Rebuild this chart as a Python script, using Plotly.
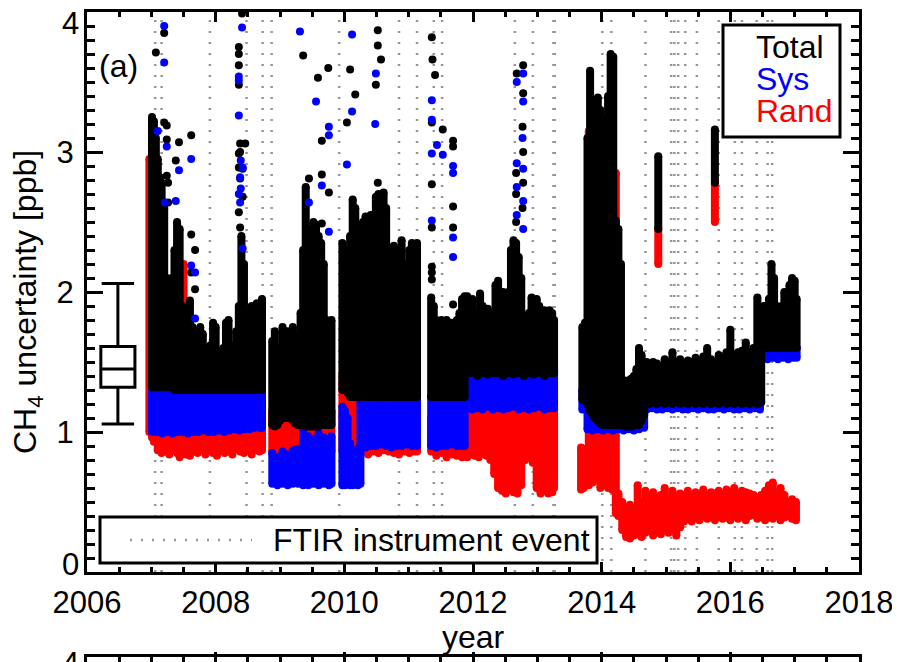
import plotly.graph_objects as go

# ---------------- data ----------------
event_years = [2007.06, 2007.16, 2007.91, 2008.48, 2008.73, 2008.87, 2009.92, 2010.85,
               2011.13, 2011.39, 2011.52, 2012.65, 2012.93, 2013.25, 2013.27, 2014.01,
               2014.15, 2014.68, 2015.08, 2015.13, 2015.19, 2015.30, 2015.48, 2015.82,
               2016.07, 2016.18, 2016.41, 2016.58, 2016.65]

# Total uncertainty: time, lower and upper envelope of the dense point cloud
total_time = [
    2007.01, 2007.04, 2007.07, 2007.10, 2007.13, 2007.16, 2007.20, 2007.24, 2007.28, 2007.32,
    2007.36, 2007.40, 2007.44, 2007.48, 2007.52, 2007.56, 2007.60, 2007.64, 2007.68, 2007.72,
    2007.76, 2007.80, 2007.84, 2007.88, 2007.92, 2007.96, 2008.00, 2008.04, 2008.08, 2008.12,
    2008.16, 2008.20, 2008.24, 2008.28, 2008.32, 2008.36, 2008.40, 2008.44, 2008.48, 2008.52,
    2008.56, 2008.60, 2008.64, 2008.68, 2008.72,
    2008.88, 2008.92, 2008.96, 2009.00, 2009.04, 2009.08, 2009.12, 2009.16, 2009.20, 2009.24,
    2009.28, 2009.32, 2009.36, 2009.40, 2009.44, 2009.48, 2009.52, 2009.56, 2009.60, 2009.64,
    2009.68, 2009.72, 2009.76, 2009.80,
    2009.97, 2010.01, 2010.05, 2010.09, 2010.13, 2010.17, 2010.21, 2010.25, 2010.29, 2010.33,
    2010.37, 2010.41, 2010.45, 2010.49, 2010.53, 2010.57, 2010.61, 2010.65, 2010.69, 2010.73,
    2010.77, 2010.81, 2010.85, 2010.89, 2010.93, 2010.97, 2011.01, 2011.05, 2011.09, 2011.13,
    2011.35, 2011.39, 2011.43, 2011.47, 2011.51, 2011.55, 2011.59, 2011.63, 2011.67, 2011.71,
    2011.75, 2011.79, 2011.83, 2011.87,
    2011.91, 2011.95, 2011.99, 2012.03, 2012.07, 2012.11, 2012.15, 2012.19, 2012.23, 2012.27,
    2012.31, 2012.35, 2012.39, 2012.43, 2012.47, 2012.51, 2012.55, 2012.59, 2012.63, 2012.67,
    2012.71, 2012.75, 2012.79, 2012.83, 2012.87, 2012.91, 2012.95, 2012.99, 2013.03, 2013.07,
    2013.11, 2013.15, 2013.19, 2013.23, 2013.26,
    2013.70, 2013.74, 2013.78, 2013.82, 2013.86, 2013.90, 2013.94, 2013.98, 2014.02, 2014.06,
    2014.10, 2014.14, 2014.18, 2014.22, 2014.26, 2014.30,
    2014.34, 2014.38, 2014.42, 2014.46, 2014.50, 2014.54, 2014.58, 2014.62, 2014.66, 2014.70,
    2014.74, 2014.80, 2014.86, 2014.92, 2014.98, 2015.04, 2015.10, 2015.16, 2015.22, 2015.28,
    2015.34, 2015.40, 2015.46, 2015.52, 2015.58, 2015.64, 2015.70, 2015.76, 2015.82, 2015.88,
    2015.94, 2016.00, 2016.06, 2016.12, 2016.18, 2016.24, 2016.30, 2016.36, 2016.42, 2016.48,
    2016.52, 2016.56, 2016.60, 2016.64, 2016.68, 2016.72, 2016.76, 2016.80, 2016.84, 2016.88,
    2016.92, 2016.96, 2017.00, 2017.03,
    2014.88, 2015.76]
total_low = [
    1.32, 1.32, 1.32, 1.32, 1.32, 1.32, 1.32, 1.32, 1.32, 1.32,
    1.30, 1.30, 1.30, 1.30, 1.30, 1.30, 1.30, 1.30, 1.30, 1.30,
    1.30, 1.30, 1.30, 1.30, 1.30, 1.30, 1.30, 1.30, 1.30, 1.30,
    1.30, 1.30, 1.30, 1.30, 1.30, 1.30, 1.30, 1.30, 1.30, 1.30,
    1.30, 1.30, 1.30, 1.30, 1.30,
    1.05, 1.04, 1.05, 1.08, 1.10, 1.10, 1.10, 1.10, 1.08, 1.06,
    1.05, 1.05, 1.05, 1.04, 1.04, 1.04, 1.04, 1.04, 1.04, 1.05,
    1.05, 1.05, 1.05, 1.05,
    1.30, 1.30, 1.28, 1.25, 1.25, 1.25, 1.25, 1.25, 1.25, 1.25,
    1.25, 1.25, 1.25, 1.25, 1.25, 1.25, 1.25, 1.25, 1.25, 1.25,
    1.25, 1.25, 1.25, 1.25, 1.25, 1.25, 1.25, 1.25, 1.25, 1.25,
    1.25, 1.25, 1.25, 1.25, 1.25, 1.25, 1.25, 1.25, 1.25, 1.25,
    1.25, 1.25, 1.25, 1.25,
    1.44, 1.42, 1.43, 1.42, 1.40, 1.42, 1.43, 1.42, 1.41, 1.42,
    1.44, 1.42, 1.43, 1.42, 1.40, 1.42, 1.43, 1.42, 1.41, 1.42,
    1.43, 1.42, 1.40, 1.42, 1.43, 1.42, 1.41, 1.42, 1.43, 1.42,
    1.40, 1.42, 1.43, 1.42, 1.42,
    1.23, 1.23, 1.20, 1.15, 1.12, 1.10, 1.08, 1.06, 1.05, 1.05,
    1.05, 1.05, 1.05, 1.05, 1.05, 1.05,
    1.05, 1.04, 1.04, 1.04, 1.05, 1.05, 1.05, 1.08, 1.12, 1.20,
    1.20, 1.21, 1.20, 1.22, 1.20, 1.21, 1.20, 1.22, 1.20, 1.21,
    1.20, 1.22, 1.20, 1.21, 1.20, 1.22, 1.20, 1.21, 1.20, 1.22,
    1.20, 1.21, 1.20, 1.22, 1.20, 1.21, 1.20, 1.22, 1.20, 1.21,
    1.60, 1.60, 1.60, 1.60, 1.60, 1.60, 1.60, 1.60, 1.60, 1.60,
    1.60, 1.60, 1.60, 1.60,
    2.45, 2.78]
total_high = [
    3.25, 3.22, 3.10, 2.95, 2.82, 2.78, 2.60, 2.10, 2.05, 2.10,
    2.30, 2.50, 2.45, 1.90, 1.80, 1.85, 1.94, 1.75, 1.70, 1.60,
    1.75, 1.70, 1.60, 1.55, 1.62, 1.78, 1.75, 1.58, 1.55, 1.60,
    1.78, 1.80, 1.60, 1.62, 1.72, 1.90, 2.40, 2.20, 1.85, 1.75,
    1.90, 1.80, 1.92, 1.85, 1.95,
    1.65, 1.72, 1.60, 1.50, 1.75, 1.60, 1.72, 1.62, 1.75, 1.60,
    1.70, 1.85, 2.30, 2.75, 2.00, 2.45, 2.50, 2.48, 2.40, 2.35,
    2.20, 1.80, 1.75, 1.80,
    2.35, 2.30, 1.90, 2.40, 2.66, 2.60, 2.20, 2.00, 2.50, 2.54,
    2.30, 2.55, 2.40, 2.68, 2.70, 2.50, 2.71, 2.60, 2.10, 2.00,
    2.33, 1.95, 2.30, 2.37, 2.20, 2.10, 2.30, 2.35, 2.10, 2.35,
    1.96, 1.90, 1.80, 1.75, 1.80, 1.72, 1.80, 1.75, 1.78, 1.70,
    1.80, 1.85, 1.95, 1.97,
    1.97, 1.90, 1.95, 1.85, 1.80, 1.99, 1.90, 1.85, 1.88, 1.85,
    1.80, 2.05, 2.08, 1.95, 2.00, 1.90, 2.00, 2.30, 2.37, 2.35,
    2.25, 2.10, 1.80, 1.75, 1.85, 1.96, 1.90, 1.95, 1.90, 1.85,
    1.87, 1.80, 1.87, 1.85, 1.80,
    1.75, 1.78, 3.10, 3.58, 3.30, 2.90, 3.39, 3.30, 3.24, 3.00,
    3.40, 3.70, 3.68, 2.51, 2.45, 2.20,
    1.37, 1.35, 1.37, 1.38, 1.40, 1.45, 1.60, 1.55, 1.45, 1.50,
    1.48, 1.50, 1.49, 1.47, 1.52, 1.50, 1.57, 1.50, 1.52, 1.48,
    1.51, 1.50, 1.53, 1.50, 1.54, 1.60, 1.52, 1.50, 1.55, 1.53,
    1.57, 1.73, 1.55, 1.57, 1.58, 1.64, 1.56, 1.60, 1.96, 1.62,
    1.90, 1.85, 1.95, 2.20, 2.10, 1.90, 1.85, 1.90, 2.00, 1.95,
    2.05, 2.10, 2.08, 1.95,
    2.97, 3.16]

# Systematic uncertainty envelope
sys_time = [
    2007.01, 2007.09, 2007.17, 2007.25, 2007.33, 2007.41, 2007.49, 2007.57, 2007.65, 2007.73,
    2007.81, 2007.89, 2007.97, 2008.05, 2008.13, 2008.21, 2008.29, 2008.37, 2008.45, 2008.53,
    2008.61, 2008.69, 2008.72,
    2008.88, 2008.96, 2009.04, 2009.12, 2009.20, 2009.28, 2009.36, 2009.44, 2009.52, 2009.60,
    2009.68, 2009.76, 2009.80,
    2009.97, 2010.01, 2010.05, 2010.09, 2010.13, 2010.17, 2010.21, 2010.25,
    2010.25, 2010.33, 2010.41, 2010.49, 2010.57, 2010.65, 2010.73, 2010.81, 2010.89, 2010.97,
    2011.05, 2011.13,
    2011.35, 2011.43, 2011.51, 2011.59, 2011.67, 2011.75, 2011.83, 2011.87,
    2011.91, 2011.99, 2012.07, 2012.15, 2012.23, 2012.31, 2012.39, 2012.47, 2012.55, 2012.63,
    2012.71, 2012.79, 2012.87, 2012.95, 2013.03, 2013.11, 2013.19, 2013.26,
    2013.70, 2013.74, 2013.78, 2013.86, 2013.94, 2014.02, 2014.10, 2014.18, 2014.26, 2014.34,
    2014.42, 2014.50, 2014.58, 2014.66,
    2014.70, 2014.78, 2014.86, 2014.94, 2015.02, 2015.10, 2015.18, 2015.26, 2015.34, 2015.42,
    2015.50, 2015.58, 2015.66, 2015.74, 2015.82, 2015.90, 2015.98, 2016.06, 2016.14, 2016.22,
    2016.30, 2016.38, 2016.46,
    2016.50, 2016.58, 2016.66, 2016.74, 2016.82, 2016.90, 2016.98, 2017.03]
sys_low = [
    1.00, 1.00, 0.99, 1.00, 0.99, 1.00, 1.00, 0.99, 1.00, 1.00,
    1.01, 1.00, 1.00, 1.01, 1.00, 1.01, 1.02, 1.01, 1.02, 1.02,
    1.03, 1.03, 1.03,
    0.63, 0.62, 0.63, 0.62, 0.63, 0.63, 0.62, 0.62, 0.63, 0.62,
    0.63, 0.62, 0.63,
    0.62, 0.62, 0.63, 0.62, 0.62, 0.63, 0.62, 0.63,
    0.90, 0.89, 0.90, 0.90, 0.91, 0.90, 0.89, 0.90, 0.90, 0.91,
    0.90, 0.90,
    0.90, 0.89, 0.90, 0.90, 0.91, 0.90, 0.90, 0.90,
    1.17, 1.16, 1.17, 1.16, 1.18, 1.16, 1.17, 1.16, 1.17, 1.18,
    1.16, 1.17, 1.16, 1.17, 1.18, 1.16, 1.17, 1.17,
    1.16, 1.16, 1.02, 1.01, 1.02, 1.01, 1.02, 1.01, 1.02, 1.01,
    1.02, 1.01, 1.02, 1.03,
    1.16, 1.17, 1.16, 1.16, 1.17, 1.16, 1.17, 1.16, 1.16, 1.17,
    1.16, 1.17, 1.16, 1.16, 1.17, 1.16, 1.17, 1.16, 1.16, 1.17,
    1.16, 1.17, 1.16,
    1.53, 1.52, 1.53, 1.52, 1.53, 1.52, 1.53, 1.53]
sys_high = [
    1.34, 1.34, 1.34, 1.34, 1.34, 1.34, 1.34, 1.34, 1.34, 1.34,
    1.34, 1.34, 1.34, 1.34, 1.34, 1.34, 1.34, 1.34, 1.34, 1.34,
    1.34, 1.34, 1.34,
    0.85, 0.82, 0.86, 0.84, 0.87, 0.88, 1.05, 0.97, 0.95, 0.99,
    0.96, 0.94, 0.97,
    1.18, 1.15, 1.10, 0.92, 0.86, 0.84, 0.88, 0.90,
    1.28, 1.28, 1.28, 1.28, 1.28, 1.28, 1.28, 1.28, 1.28, 1.28,
    1.28, 1.28,
    1.25, 1.25, 1.25, 1.25, 1.25, 1.25, 1.25, 1.25,
    1.44, 1.44, 1.44, 1.44, 1.44, 1.44, 1.44, 1.44, 1.44, 1.44,
    1.44, 1.44, 1.44, 1.44, 1.44, 1.44, 1.44, 1.44,
    1.30, 1.30, 1.18, 1.18, 1.18, 1.18, 1.18, 1.18, 1.18, 1.18,
    1.18, 1.18, 1.18, 1.18,
    1.23, 1.23, 1.23, 1.23, 1.23, 1.23, 1.23, 1.23, 1.23, 1.23,
    1.23, 1.23, 1.23, 1.23, 1.23, 1.23, 1.23, 1.23, 1.23, 1.23,
    1.23, 1.23, 1.23,
    1.60, 1.60, 1.60, 1.60, 1.60, 1.60, 1.60, 1.60]

# Random uncertainty envelope
rand_time = [
    2006.97, 2007.01, 2007.04, 2007.10, 2007.16, 2007.22, 2007.28, 2007.34, 2007.40, 2007.44,
    2007.50, 2007.54, 2007.60, 2007.66, 2007.72, 2007.78, 2007.84, 2007.90, 2007.96, 2008.02,
    2008.08, 2008.14, 2008.20, 2008.26, 2008.32, 2008.38, 2008.44, 2008.50, 2008.56, 2008.62,
    2008.68, 2008.72,
    2008.88, 2008.96, 2009.04, 2009.12, 2009.20, 2009.28, 2009.36, 2009.44, 2009.52, 2009.60,
    2009.68, 2009.76, 2009.80,
    2009.97, 2010.05, 2010.13, 2010.21, 2010.29, 2010.37, 2010.45, 2010.53, 2010.61, 2010.69,
    2010.77, 2010.85, 2010.93, 2011.01, 2011.09, 2011.13,
    2011.35, 2011.43, 2011.51, 2011.59, 2011.67, 2011.75, 2011.83, 2011.87,
    2011.91, 2011.97, 2012.03, 2012.09, 2012.15, 2012.21, 2012.27, 2012.33, 2012.39, 2012.45,
    2012.51, 2012.57, 2012.63, 2012.69, 2012.75, 2012.81, 2012.87, 2012.93, 2012.99, 2013.05,
    2013.11, 2013.17, 2013.23, 2013.26,
    2013.68, 2013.72, 2013.76, 2013.80, 2013.86, 2013.92, 2013.98, 2014.04, 2014.10, 2014.16,
    2014.22,
    2014.26, 2014.32, 2014.38, 2014.44, 2014.50, 2014.56, 2014.62, 2014.68, 2014.74, 2014.80,
    2014.86, 2014.92, 2014.98, 2015.04, 2015.10, 2015.16, 2015.22, 2015.28, 2015.34, 2015.40,
    2015.46, 2015.52, 2015.58, 2015.64, 2015.70, 2015.76, 2015.82, 2015.88, 2015.94, 2016.00,
    2016.06, 2016.12, 2016.18, 2016.24, 2016.30, 2016.36, 2016.42, 2016.48, 2016.54, 2016.60,
    2016.66, 2016.72, 2016.78, 2016.84, 2016.90, 2016.96, 2017.02,
    2014.88, 2015.76]
rand_low = [
    1.00, 0.96, 0.93, 0.87, 0.85, 0.86, 0.84, 0.87, 0.85, 0.82,
    0.86, 0.84, 0.83, 0.86, 0.85, 0.88, 0.84, 0.86, 0.85, 0.83,
    0.87, 0.85, 0.86, 0.84, 0.88, 0.86, 0.85, 0.87, 0.84, 0.88,
    0.86, 0.87,
    0.86, 0.85, 0.87, 0.85, 0.86, 0.84, 0.86, 0.85, 0.87, 0.85,
    0.86, 0.85, 0.86,
    0.86, 0.85, 0.87, 0.85, 0.86, 0.84, 0.86, 0.85, 0.87, 0.86,
    0.85, 0.84, 0.86, 0.85, 0.86, 0.86,
    0.86, 0.83, 0.85, 0.82, 0.84, 0.83, 0.82, 0.83,
    0.82, 0.84, 0.83, 0.82, 0.85, 0.83, 0.80, 0.70, 0.60, 0.58,
    0.56, 0.60, 0.57, 0.56, 0.62, 0.80, 0.82, 0.78, 0.60, 0.56,
    0.58, 0.56, 0.57, 0.60,
    0.59, 0.60, 0.62, 0.62, 0.64, 0.66, 0.60, 0.62, 0.60, 0.59,
    0.42,
    0.40, 0.30, 0.25, 0.24, 0.26, 0.27, 0.25, 0.28, 0.30, 0.26,
    0.30, 0.27, 0.31, 0.28, 0.30, 0.26, 0.32, 0.36, 0.38, 0.36,
    0.39, 0.37, 0.40, 0.38, 0.39, 0.37, 0.40, 0.38, 0.39, 0.37,
    0.40, 0.38, 0.39, 0.37, 0.40, 0.41, 0.38, 0.40, 0.37, 0.39,
    0.38, 0.40, 0.37, 0.39, 0.40, 0.38, 0.37,
    2.20, 2.50]
rand_high = [
    2.95, 2.90, 1.40, 1.35, 1.35, 1.35, 1.35, 1.35, 1.35, 1.35,
    2.20, 1.35, 1.35, 1.35, 1.35, 1.35, 1.35, 1.35, 1.35, 1.35,
    1.35, 1.35, 1.35, 1.35, 1.35, 1.35, 1.35, 1.35, 1.35, 1.35,
    1.35, 1.35,
    1.15, 1.15, 1.15, 1.15, 1.15, 1.15, 1.15, 1.15, 1.15, 1.15,
    1.15, 1.15, 1.15,
    1.40, 1.40, 1.38, 1.35, 1.35, 1.35, 1.35, 1.35, 1.35, 1.35,
    1.35, 1.35, 1.35, 1.35, 1.35, 1.35,
    1.10, 1.10, 1.10, 1.10, 1.10, 1.10, 1.10, 1.10,
    1.16, 1.16, 1.15, 1.16, 1.14, 1.16, 1.15, 1.16, 1.14, 1.16,
    1.15, 1.16, 1.14, 1.16, 1.15, 1.16, 1.14, 1.16, 1.15, 1.16,
    1.14, 1.16, 1.15, 1.16,
    0.89, 0.88, 0.86, 3.15, 1.00, 1.00, 1.00, 1.00, 1.00, 1.01,
    2.85,
    0.56, 0.50, 0.45, 0.48, 0.44, 0.62, 0.50, 0.58, 0.55, 0.57,
    0.52, 0.55, 0.60, 0.53, 0.58, 0.54, 0.56, 0.55, 0.58, 0.53,
    0.57, 0.55, 0.59, 0.54, 0.57, 0.56, 0.58, 0.55, 0.59, 0.56,
    0.60, 0.55, 0.58, 0.57, 0.56, 0.55, 0.52, 0.55, 0.58, 0.62,
    0.64, 0.56, 0.60, 0.55, 0.50, 0.52, 0.50,
    2.45, 2.78]

# Isolated scattered points above the clouds
total_outlier_time = [
    2007.07, 2007.20, 2007.20, 2007.24, 2007.24, 2007.43, 2007.62, 2007.38, 2007.24, 2007.26,
    2007.26, 2007.62, 2007.68, 2007.62, 2007.68,
    2008.41, 2008.36, 2008.36, 2008.36, 2008.36, 2008.38, 2008.46, 2008.38, 2008.36, 2008.36,
    2008.42, 2008.38, 2008.42, 2008.36, 2008.38,
    2009.36, 2009.59, 2009.75, 2009.65, 2009.65, 2009.76, 2009.45, 2009.65, 2010.04, 2010.09,
    2010.17, 2010.52, 2010.52, 2010.57, 2010.49, 2010.52, 2010.52,
    2011.36, 2011.37, 2011.41, 2011.36, 2011.53, 2011.69, 2011.69, 2011.36, 2011.69, 2011.69,
    2011.36, 2011.36, 2011.36, 2011.36, 2011.69,
    2012.78, 2012.68, 2012.78, 2012.77, 2012.78, 2012.67, 2012.78, 2012.67, 2012.77, 2012.67]
total_outlier_value = [
    3.71, 3.85, 3.21, 3.19, 3.09, 3.07, 3.12, 2.94, 2.83, 2.78,
    2.64, 2.41, 2.30, 2.14, 2.02,
    3.99, 3.75, 3.70, 3.62, 3.48, 3.06, 3.06, 3.00, 2.99, 2.89,
    2.88, 2.81, 2.68, 2.57, 2.46,
    3.69, 3.53, 3.60, 3.08, 2.84, 2.71, 2.81, 2.49, 3.21, 3.59,
    3.41, 3.87, 3.76, 3.66, 3.48, 2.78, 2.61,
    3.82, 3.66, 3.55, 3.21, 3.16, 3.08, 3.04, 2.77, 2.61, 2.46,
    2.46, 2.18, 2.14, 2.09, 1.91,
    3.62, 3.56, 3.42, 3.18, 3.00, 2.85, 2.78, 2.70, 2.60, 2.50]
sys_outlier_time = [
    2007.20, 2007.20, 2007.10, 2007.24, 2007.62, 2007.43, 2007.38, 2007.21, 2007.62, 2007.68,
    2007.68,
    2008.41, 2008.36, 2008.36, 2008.36, 2008.39, 2008.42, 2008.38, 2008.39, 2008.36, 2008.38,
    2008.42,
    2009.31, 2009.56, 2009.76, 2009.76, 2009.65, 2009.45, 2009.76, 2010.12, 2010.04, 2010.12,
    2010.48, 2010.49,
    2011.36, 2011.36, 2011.44, 2011.36, 2011.53, 2011.69, 2011.69, 2011.69, 2011.69, 2011.36,
    2012.78, 2012.68, 2012.78, 2012.77, 2012.68, 2012.78, 2012.68, 2012.78, 2012.68, 2012.78]
sys_outlier_value = [
    3.90, 3.64, 3.15, 3.04, 2.95, 2.87, 2.65, 2.64, 2.19, 2.14,
    1.81,
    3.89, 3.54, 3.51, 3.26, 2.94, 2.89, 2.82, 2.74, 2.70, 2.64,
    2.31,
    3.86, 3.36, 3.18, 3.12, 2.76, 2.64, 2.43, 3.84, 2.91, 3.29,
    3.20, 3.56,
    3.37, 3.23, 3.05, 2.99, 2.98, 2.90, 2.85, 2.39, 2.25, 2.51,
    3.56, 3.50, 3.36, 3.10, 2.92, 2.88, 2.75, 2.65, 2.55, 2.45]

# Box-and-whisker summary drawn at the left
box_position = [2006.48]
box_lower = [1.057]
box_q1 = [1.32]
box_median = [1.45]
box_q3 = [1.61]
box_upper = [2.06]

x_tick_values = [2006, 2008, 2010, 2012, 2014, 2016, 2018]
x_tick_labels = ["2006", "2008", "2010", "2012", "2014", "2016", "2018"]
y_tick_values = [1, 2, 3]
y_tick_labels = ["1", "2", "3"]

# ---------------- layout geometry ----------------
# the page places the figure 8 px from the window's top-left corner,
# so the figure is 8 px smaller and every reference pixel is shifted by 8
OFF = 8
W, H = 900 - OFF, 662 - OFF
PL, PR, PT = 87, 859, 12          # reference pixels of the plot frame
MAIN_BOTTOM = 572
PANEL2_TOP = 657
FONT = "Liberation Sans, Arial, Helvetica, sans-serif"
GRAY = "rgb(150,150,150)"


def X(px):
    return (px - PL) / (PR - PL)


def Y(py):
    return (662 - py) / (662 - PT)


def columns(t, lo, hi):
    xs, ys = [], []
    for a, b, c in zip(t, lo, hi):
        xs += [a, a, None]
        ys += [b, c, None]
    return xs, ys


fig = go.Figure()

# FTIR instrument events
ex, ey = [], []
for e in event_years:
    ex += [e, e, None]
    ey += [0, 4, None]
fig.add_trace(go.Scatter(x=ex, y=ey, mode="lines", hoverinfo="skip",
                         line=dict(color=GRAY, width=2.5, dash="2px,9px")))

for t, lo, hi, col in [(rand_time, rand_low, rand_high, "#ff0000"),
                       (sys_time, sys_low, sys_high, "#0000ff"),
                       (total_time, total_low, total_high, "#000000")]:
    xs, ys = columns(t, lo, hi)
    fig.add_trace(go.Scatter(x=xs, y=ys, mode="lines+markers", hoverinfo="skip",
                             line=dict(color=col, width=8),
                             marker=dict(color=col, size=8)))

fig.add_trace(go.Scatter(x=total_outlier_time, y=total_outlier_value, mode="markers",
                         marker=dict(color="#000000", size=8), hoverinfo="skip"))
fig.add_trace(go.Scatter(x=sys_outlier_time, y=sys_outlier_value, mode="markers",
                         marker=dict(color="#0000ff", size=8), hoverinfo="skip"))

fig.add_trace(go.Box(x=box_position, q1=box_q1, median=box_median, q3=box_q3,
                     lowerfence=box_lower, upperfence=box_upper, width=0.53,
                     whiskerwidth=0.95, fillcolor="white", boxpoints=False,
                     line=dict(color="black", width=3), hoverinfo="skip"))

# empty trace that anchors the (cut-off) second panel
fig.add_trace(go.Scatter(x=[], y=[], xaxis="x2", yaxis="y2", mode="markers"))

axis_common = dict(showline=True, linewidth=3, linecolor="black", mirror="allticks",
                   showgrid=False, zeroline=False, ticks="inside", tickcolor="black",
                   tickwidth=2.5)

fig.update_layout(
    width=W, height=H,
    margin=dict(l=PL - OFF, r=W - (PR - OFF), t=PT - OFF, b=0, pad=0),
    paper_bgcolor="white", plot_bgcolor="white",
    showlegend=False,
    font=dict(family=FONT, size=31, color="black"),
    xaxis=dict(domain=[0, 1], anchor="y", range=[2006, 2018],
               tickmode="array", tickvals=x_tick_values, ticktext=x_tick_labels,
               ticklen=10, ticklabelstandoff=1,
               tickfont=dict(size=31, family=FONT, color="black"),
               minor=dict(tick0=2006, dtick=0.5, ticks="inside", ticklen=5,
                          tickwidth=2.5, tickcolor="black", showgrid=False),
               **axis_common),
    yaxis=dict(domain=[Y(MAIN_BOTTOM), 1], anchor="x", range=[0, 4],
               tickmode="array", tickvals=y_tick_values, ticktext=y_tick_labels,
               ticklen=16, ticklabelstandoff=4,
               tickfont=dict(size=31, family=FONT, color="black"),
               minor=dict(tick0=0, dtick=0.1, ticks="inside", ticklen=8,
                          tickwidth=2.5, tickcolor="black", showgrid=False),
               **axis_common),
    xaxis2=dict(domain=[0, 1], anchor="y2", range=[2006, 2018],
                tickmode="array", tickvals=x_tick_values, showticklabels=False,
                ticklen=10,
                minor=dict(tick0=2006, dtick=0.5, ticks="inside", ticklen=5,
                           tickwidth=2.5, tickcolor="black", showgrid=False),
                **axis_common),
    yaxis2=dict(domain=[0, Y(PANEL2_TOP)], anchor="x2", range=[3.9, 4],
                showline=True, linewidth=3, linecolor="black", mirror=True,
                showgrid=False, zeroline=False, ticks="", showticklabels=False),
)

# legend boxes
fig.add_shape(type="rect", xref="paper", yref="paper",
              x0=X(723), x1=X(840), y0=Y(137), y1=Y(25),
              line=dict(color="black", width=3), fillcolor="white")
fig.add_shape(type="rect", xref="paper", yref="paper",
              x0=X(100), x1=X(597), y0=Y(563), y1=Y(517),
              line=dict(color="black", width=3), fillcolor="white")
fig.add_shape(type="line", xref="paper", yref="paper",
              x0=X(130), x1=X(252), y0=Y(540), y1=Y(540),
              line=dict(color=GRAY, width=2.5, dash="2px,9px"))

ann = [
    dict(text="Total", x=X(754), y=Y(47), color="black"),
    dict(text="Sys", x=X(754), y=Y(79), color="#0000ff"),
    dict(text="Rand", x=X(754), y=Y(111), color="#ff0000"),
    dict(text="FTIR instrument event", x=X(271), y=Y(540), color="black"),
    dict(text="(a)", x=X(97), y=Y(66), color="black"),
]
for a in ann:
    fig.add_annotation(text=a["text"], x=a["x"], y=a["y"], xref="paper", yref="paper",
                       xanchor="left", yanchor="middle", showarrow=False,
                       font=dict(size=32, family=FONT, color=a["color"]))

# end labels of the y axis (sit inside the frame, as in the original)
fig.add_annotation(text="4", x=X(81), y=Y(24), xref="paper", yref="paper",
                   xanchor="right", yanchor="middle", showarrow=False,
                   font=dict(size=31, family=FONT, color="black"))
fig.add_annotation(text="0", x=X(81), y=Y(564), xref="paper", yref="paper",
                   xanchor="right", yanchor="middle", showarrow=False,
                   font=dict(size=31, family=FONT, color="black"))
# first label of the next (cut-off) panel
fig.add_annotation(text="4", x=X(81), y=Y(664), xref="paper", yref="paper",
                   xanchor="right", yanchor="middle", showarrow=False,
                   font=dict(size=31, family=FONT, color="black"))

fig.add_annotation(text="year", x=X(473), y=Y(637), xref="paper", yref="paper",
                   xanchor="center", yanchor="middle", showarrow=False,
                   font=dict(size=32, family=FONT, color="black"))
fig.add_annotation(text="CH<sub>4</sub> uncertainty [ppb]", x=X(27), y=Y(302),
                   xref="paper", yref="paper", textangle=-90,
                   xanchor="center", yanchor="middle", showarrow=False,
                   font=dict(size=32, family=FONT, color="black"))

fig.write_html("out.html")
